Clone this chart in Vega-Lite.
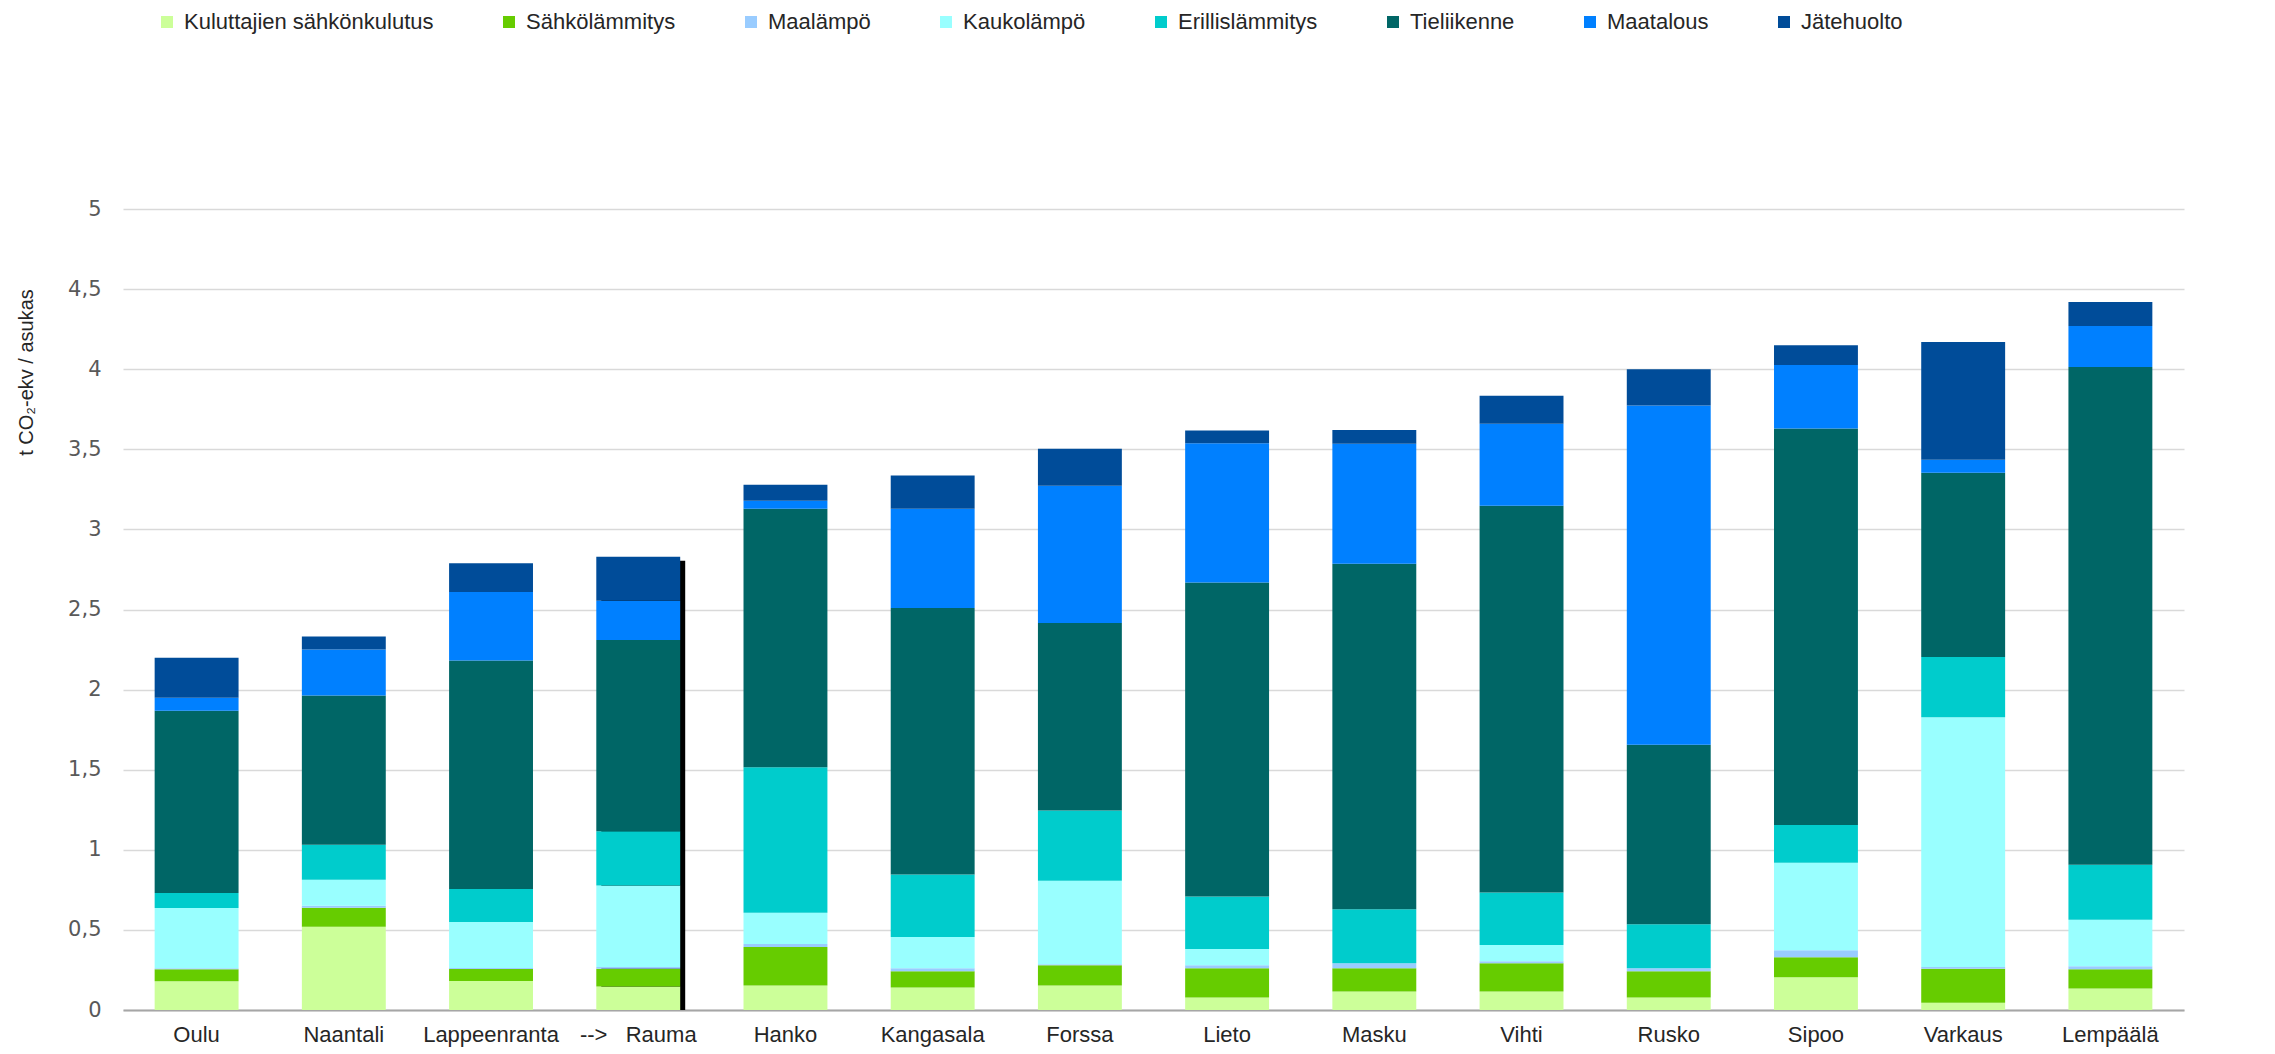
{
  "$schema": "https://vega.github.io/schema/vega-lite/v6.json",
  "autosize": {"type": "none"},
  "width": 2061,
  "height": 801,
  "padding": {"left": 123, "top": 209, "right": 91, "bottom": 44},
  "background": "white",
  "config": {
    "view": {"stroke": null},
    "font": "Liberation Sans"
  },
  "data": {
    "values": [
      {"kunta": "Oulu", "sektori": "Kuluttajien sähkönkulutus", "arvo": 0.18},
      {"kunta": "Oulu", "sektori": "Sähkölämmitys", "arvo": 0.075},
      {"kunta": "Oulu", "sektori": "Maalämpö", "arvo": 0.006},
      {"kunta": "Oulu", "sektori": "Kaukolämpö", "arvo": 0.375},
      {"kunta": "Oulu", "sektori": "Erillislämmitys", "arvo": 0.094},
      {"kunta": "Oulu", "sektori": "Tieliikenne", "arvo": 1.138},
      {"kunta": "Oulu", "sektori": "Maatalous", "arvo": 0.081},
      {"kunta": "Oulu", "sektori": "Jätehuolto", "arvo": 0.25},
      {"kunta": "Naantali", "sektori": "Kuluttajien sähkönkulutus", "arvo": 0.519},
      {"kunta": "Naantali", "sektori": "Sähkölämmitys", "arvo": 0.119},
      {"kunta": "Naantali", "sektori": "Maalämpö", "arvo": 0.013},
      {"kunta": "Naantali", "sektori": "Kaukolämpö", "arvo": 0.162},
      {"kunta": "Naantali", "sektori": "Erillislämmitys", "arvo": 0.219},
      {"kunta": "Naantali", "sektori": "Tieliikenne", "arvo": 0.931},
      {"kunta": "Naantali", "sektori": "Maatalous", "arvo": 0.287},
      {"kunta": "Naantali", "sektori": "Jätehuolto", "arvo": 0.081},
      {"kunta": "Lappeenranta", "sektori": "Kuluttajien sähkönkulutus", "arvo": 0.181},
      {"kunta": "Lappeenranta", "sektori": "Sähkölämmitys", "arvo": 0.075},
      {"kunta": "Lappeenranta", "sektori": "Maalämpö", "arvo": 0.006},
      {"kunta": "Lappeenranta", "sektori": "Kaukolämpö", "arvo": 0.288},
      {"kunta": "Lappeenranta", "sektori": "Erillislämmitys", "arvo": 0.206},
      {"kunta": "Lappeenranta", "sektori": "Tieliikenne", "arvo": 1.425},
      {"kunta": "Lappeenranta", "sektori": "Maatalous", "arvo": 0.428},
      {"kunta": "Lappeenranta", "sektori": "Jätehuolto", "arvo": 0.18},
      {"kunta": "Rauma", "sektori": "Kuluttajien sähkönkulutus", "arvo": 0.147},
      {"kunta": "Rauma", "sektori": "Sähkölämmitys", "arvo": 0.111},
      {"kunta": "Rauma", "sektori": "Maalämpö", "arvo": 0.01},
      {"kunta": "Rauma", "sektori": "Kaukolämpö", "arvo": 0.509},
      {"kunta": "Rauma", "sektori": "Erillislämmitys", "arvo": 0.339},
      {"kunta": "Rauma", "sektori": "Tieliikenne", "arvo": 1.194},
      {"kunta": "Rauma", "sektori": "Maatalous", "arvo": 0.245},
      {"kunta": "Rauma", "sektori": "Jätehuolto", "arvo": 0.274},
      {"kunta": "Hanko", "sektori": "Kuluttajien sähkönkulutus", "arvo": 0.153},
      {"kunta": "Hanko", "sektori": "Sähkölämmitys", "arvo": 0.24},
      {"kunta": "Hanko", "sektori": "Maalämpö", "arvo": 0.019},
      {"kunta": "Hanko", "sektori": "Kaukolämpö", "arvo": 0.195},
      {"kunta": "Hanko", "sektori": "Erillislämmitys", "arvo": 0.908},
      {"kunta": "Hanko", "sektori": "Tieliikenne", "arvo": 1.614},
      {"kunta": "Hanko", "sektori": "Maatalous", "arvo": 0.05},
      {"kunta": "Hanko", "sektori": "Jätehuolto", "arvo": 0.099},
      {"kunta": "Kangasala", "sektori": "Kuluttajien sähkönkulutus", "arvo": 0.141},
      {"kunta": "Kangasala", "sektori": "Sähkölämmitys", "arvo": 0.101},
      {"kunta": "Kangasala", "sektori": "Maalämpö", "arvo": 0.018},
      {"kunta": "Kangasala", "sektori": "Kaukolämpö", "arvo": 0.196},
      {"kunta": "Kangasala", "sektori": "Erillislämmitys", "arvo": 0.39},
      {"kunta": "Kangasala", "sektori": "Tieliikenne", "arvo": 1.664},
      {"kunta": "Kangasala", "sektori": "Maatalous", "arvo": 0.619},
      {"kunta": "Kangasala", "sektori": "Jätehuolto", "arvo": 0.207},
      {"kunta": "Forssa", "sektori": "Kuluttajien sähkönkulutus", "arvo": 0.153},
      {"kunta": "Forssa", "sektori": "Sähkölämmitys", "arvo": 0.126},
      {"kunta": "Forssa", "sektori": "Maalämpö", "arvo": 0.007},
      {"kunta": "Forssa", "sektori": "Kaukolämpö", "arvo": 0.521},
      {"kunta": "Forssa", "sektori": "Erillislämmitys", "arvo": 0.438},
      {"kunta": "Forssa", "sektori": "Tieliikenne", "arvo": 1.171},
      {"kunta": "Forssa", "sektori": "Maatalous", "arvo": 0.857},
      {"kunta": "Forssa", "sektori": "Jätehuolto", "arvo": 0.231},
      {"kunta": "Lieto", "sektori": "Kuluttajien sähkönkulutus", "arvo": 0.078},
      {"kunta": "Lieto", "sektori": "Sähkölämmitys", "arvo": 0.182},
      {"kunta": "Lieto", "sektori": "Maalämpö", "arvo": 0.019},
      {"kunta": "Lieto", "sektori": "Kaukolämpö", "arvo": 0.101},
      {"kunta": "Lieto", "sektori": "Erillislämmitys", "arvo": 0.328},
      {"kunta": "Lieto", "sektori": "Tieliikenne", "arvo": 1.961},
      {"kunta": "Lieto", "sektori": "Maatalous", "arvo": 0.868},
      {"kunta": "Lieto", "sektori": "Jätehuolto", "arvo": 0.08},
      {"kunta": "Masku", "sektori": "Kuluttajien sähkönkulutus", "arvo": 0.116},
      {"kunta": "Masku", "sektori": "Sähkölämmitys", "arvo": 0.144},
      {"kunta": "Masku", "sektori": "Maalämpö", "arvo": 0.032},
      {"kunta": "Masku", "sektori": "Kaukolämpö", "arvo": 0.0},
      {"kunta": "Masku", "sektori": "Erillislämmitys", "arvo": 0.337},
      {"kunta": "Masku", "sektori": "Tieliikenne", "arvo": 2.156},
      {"kunta": "Masku", "sektori": "Maatalous", "arvo": 0.749},
      {"kunta": "Masku", "sektori": "Jätehuolto", "arvo": 0.086},
      {"kunta": "Vihti", "sektori": "Kuluttajien sähkönkulutus", "arvo": 0.116},
      {"kunta": "Vihti", "sektori": "Sähkölämmitys", "arvo": 0.176},
      {"kunta": "Vihti", "sektori": "Maalämpö", "arvo": 0.013},
      {"kunta": "Vihti", "sektori": "Kaukolämpö", "arvo": 0.1},
      {"kunta": "Vihti", "sektori": "Erillislämmitys", "arvo": 0.328},
      {"kunta": "Vihti", "sektori": "Tieliikenne", "arvo": 2.414},
      {"kunta": "Vihti", "sektori": "Maatalous", "arvo": 0.513},
      {"kunta": "Vihti", "sektori": "Jätehuolto", "arvo": 0.174},
      {"kunta": "Rusko", "sektori": "Kuluttajien sähkönkulutus", "arvo": 0.078},
      {"kunta": "Rusko", "sektori": "Sähkölämmitys", "arvo": 0.164},
      {"kunta": "Rusko", "sektori": "Maalämpö", "arvo": 0.018},
      {"kunta": "Rusko", "sektori": "Kaukolämpö", "arvo": 0.0},
      {"kunta": "Rusko", "sektori": "Erillislämmitys", "arvo": 0.276},
      {"kunta": "Rusko", "sektori": "Tieliikenne", "arvo": 1.12},
      {"kunta": "Rusko", "sektori": "Maatalous", "arvo": 2.118},
      {"kunta": "Rusko", "sektori": "Jätehuolto", "arvo": 0.226},
      {"kunta": "Sipoo", "sektori": "Kuluttajien sähkönkulutus", "arvo": 0.204},
      {"kunta": "Sipoo", "sektori": "Sähkölämmitys", "arvo": 0.125},
      {"kunta": "Sipoo", "sektori": "Maalämpö", "arvo": 0.044},
      {"kunta": "Sipoo", "sektori": "Kaukolämpö", "arvo": 0.546},
      {"kunta": "Sipoo", "sektori": "Erillislämmitys", "arvo": 0.236},
      {"kunta": "Sipoo", "sektori": "Tieliikenne", "arvo": 2.475},
      {"kunta": "Sipoo", "sektori": "Maatalous", "arvo": 0.396},
      {"kunta": "Sipoo", "sektori": "Jätehuolto", "arvo": 0.124},
      {"kunta": "Varkaus", "sektori": "Kuluttajien sähkönkulutus", "arvo": 0.046},
      {"kunta": "Varkaus", "sektori": "Sähkölämmitys", "arvo": 0.212},
      {"kunta": "Varkaus", "sektori": "Maalämpö", "arvo": 0.01},
      {"kunta": "Varkaus", "sektori": "Kaukolämpö", "arvo": 1.559},
      {"kunta": "Varkaus", "sektori": "Erillislämmitys", "arvo": 0.376},
      {"kunta": "Varkaus", "sektori": "Tieliikenne", "arvo": 1.15},
      {"kunta": "Varkaus", "sektori": "Maatalous", "arvo": 0.082},
      {"kunta": "Varkaus", "sektori": "Jätehuolto", "arvo": 0.735},
      {"kunta": "Lempäälä", "sektori": "Kuluttajien sähkönkulutus", "arvo": 0.134},
      {"kunta": "Lempäälä", "sektori": "Sähkölämmitys", "arvo": 0.12},
      {"kunta": "Lempäälä", "sektori": "Maalämpö", "arvo": 0.019},
      {"kunta": "Lempäälä", "sektori": "Kaukolämpö", "arvo": 0.29},
      {"kunta": "Lempäälä", "sektori": "Erillislämmitys", "arvo": 0.343},
      {"kunta": "Lempäälä", "sektori": "Tieliikenne", "arvo": 3.108},
      {"kunta": "Lempäälä", "sektori": "Maatalous", "arvo": 0.255},
      {"kunta": "Lempäälä", "sektori": "Jätehuolto", "arvo": 0.15}
    ]
  },
  "encoding": {
    "x": {
      "field": "kunta",
      "type": "nominal",
      "sort": ["Oulu", "Naantali", "Lappeenranta", "Rauma", "Hanko", "Kangasala", "Forssa", "Lieto", "Masku", "Vihti", "Rusko", "Sipoo", "Varkaus", "Lempäälä"],
      "scale": {
        "domain": ["Oulu", "Naantali", "Lappeenranta", "Rauma", "Hanko", "Kangasala", "Forssa", "Lieto", "Masku", "Vihti", "Rusko", "Sipoo", "Varkaus", "Lempäälä"],
        "paddingInner": 0.43,
        "paddingOuter": 0.215
      },
      "axis": {
        "title": null,
        "labelAngle": 0,
        "labelFontSize": 22,
        "labelColor": "#262626",
        "labelPadding": 14,
        "ticks": false,
        "domainColor": "#a6a6a6",
        "domainWidth": 2,
        "labelExpr": "datum.value == 'Rauma' ? '-->\u00a0\u00a0\u00a0Rauma' : datum.value"
      }
    }
  },
  "layer": [
    {
      "transform": [{"filter": "datum.kunta == 'Rauma'"}],
      "mark": {"type": "bar", "color": "#000000", "xOffset": 5, "yOffset": 4},
      "encoding": {
        "y": {
          "aggregate": "sum",
          "field": "arvo",
          "type": "quantitative",
          "title": "t CO₂-ekv / asukas"
        }
      }
    },
    {
      "transform": [
        {"calculate": "indexof(['Kuluttajien sähkönkulutus', 'Sähkölämmitys', 'Maalämpö', 'Kaukolämpö', 'Erillislämmitys', 'Tieliikenne', 'Maatalous', 'Jätehuolto'], datum.sektori)", "as": "jarjestys"}
      ],
      "mark": {"type": "bar"},
      "encoding": {
        "y": {
          "field": "arvo",
          "type": "quantitative",
          "stack": "zero",
          "scale": {"domain": [0, 5], "nice": false, "zero": true},
          "title": "t CO₂-ekv / asukas",
          "axis": {
            "values": [0, 0.5, 1, 1.5, 2, 2.5, 3, 3.5, 4, 4.5, 5],
            "labelExpr": "replace(toString(datum.value), '.', ',')",
            "labelFont": "DejaVu Sans",
            "labelFontSize": 21,
            "labelColor": "#595959",
            "labelPadding": 22,
            "ticks": false,
            "domain": false,
            "gridColor": "#d9d9d9",
            "gridWidth": 1.5,
            "titleFont": "Liberation Sans",
            "titleFontSize": 20,
            "titleFontWeight": "normal",
            "titleColor": "#262626",
            "titleAngle": -90,
            "titleX": -97,
            "titleY": 163,
            "titleAlign": "center",
            "titleBaseline": "middle"
          }
        },
        "order": {"field": "jarjestys", "type": "quantitative", "sort": "ascending"},
        "color": {
          "field": "sektori",
          "type": "nominal",
          "sort": ["Kuluttajien sähkönkulutus", "Sähkölämmitys", "Maalämpö", "Kaukolämpö", "Erillislämmitys", "Tieliikenne", "Maatalous", "Jätehuolto"],
          "scale": {
            "domain": ["Kuluttajien sähkönkulutus", "Sähkölämmitys", "Maalämpö", "Kaukolämpö", "Erillislämmitys", "Tieliikenne", "Maatalous", "Jätehuolto"],
            "range": ["#ccff99", "#66cc00", "#99ccff", "#99ffff", "#00cccc", "#006666", "#0080ff", "#004c99"]
          },
          "legend": {
            "title": null,
            "orient": "none",
            "direction": "horizontal",
            "legendX": 33,
            "legendY": -198,
            "symbolType": "square",
            "symbolSize": 144,
            "symbolStrokeWidth": 0,
            "labelFontSize": 22,
            "labelColor": "#262626",
            "labelOffset": 6,
            "columnPadding": 64,
            "labelLimit": 400
          }
        }
      }
    }
  ]
}
